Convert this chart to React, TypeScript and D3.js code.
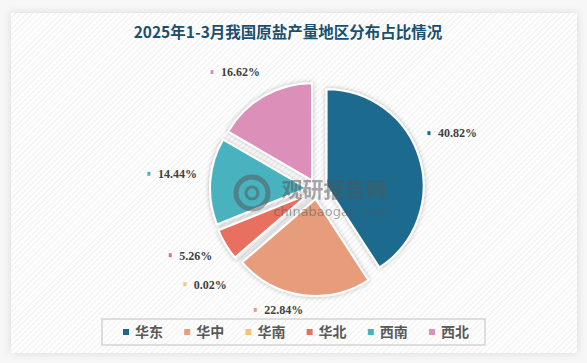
import React, { useMemo } from 'react';
import * as d3 from 'd3';

const title = '2025年1-3月我国原盐产量地区分布占比情况';
const regions = ['华东', '华中', '华南', '华北', '西南', '西北'];
const shares = [40.82, 22.84, 0.02, 5.26, 14.44, 16.62];
const colors = ['#1d6a8e', '#e79c7b', '#fbc277', '#e8705f', '#48b2bf', '#dc8fb8'];

// label placement nudges (degrees off slice middle, radius factor)
const labelShift = [-10, 19, 5, 7, 1, -12];
const labelRadius = [1.29, 1.4, 1.68, 1.66, 1.74, 1.62];

const W = 587;
const H = 363;

export default function App() {
  const cx = 317;
  const cy = 189;
  const r = 97;
  const explode = 10;

  const arcs = useMemo(
    () =>
      d3
        .pie<number>()
        .sort(null)
        .value((d) => d)(shares),
    []
  );
  const arc = d3.arc<d3.PieArcDatum<number>>().innerRadius(0).outerRadius(r);

  const legendX = d3
    .scaleBand<string>()
    .domain(regions)
    .range([123, 123 + 61.2 * regions.length]);

  return (
    <div style={{ position: 'absolute', left: 0, top: 0 }}>
      <svg width={W} height={H} style={{ display: 'block' }}>
        <defs>
          <pattern id="stripes" width="4" height="4" patternUnits="userSpaceOnUse" patternTransform="rotate(45)">
            <rect width="4" height="4" fill="#ffffff" />
            <line x1="0" y1="0" x2="0" y2="4" stroke="#ebebeb" strokeWidth="1.6" />
          </pattern>
          <filter id="boxShadow" x="-5%" y="-5%" width="110%" height="110%">
            <feDropShadow dx="0" dy="0" stdDeviation="4" floodColor="#000" floodOpacity="0.12" />
          </filter>
          <filter id="sliceShadow" x="-20%" y="-20%" width="140%" height="140%">
            <feDropShadow dx="0" dy="0" stdDeviation="2.5" floodColor="#000" floodOpacity="0.28" />
          </filter>
        </defs>
        <rect width={W} height={H} fill="#f7f7f7" />
        <rect x={11} y={13} width={566} height={340} fill="url(#stripes)" filter="url(#boxShadow)" />

        <text
          x={288}
          y={38}
          textAnchor="middle"
          fontFamily="'Noto Sans CJK SC', sans-serif"
          fontWeight="bold"
          fontSize={15.5}
          fill="#1b4f6e"
        >
          {title}
        </text>

        <g>
          {arcs.map((a, i) => {
            const mid = (a.startAngle + a.endAngle) / 2;
            const ox = Math.sin(mid) * explode;
            const oy = -Math.cos(mid) * explode;
            return (
              <path
                key={regions[i]}
                d={arc(a) || ''}
                transform={`translate(${cx + ox},${cy + oy})`}
                fill={colors[i]}
                stroke="#ffffff"
                strokeWidth={2}
                strokeLinejoin="round"
                filter="url(#sliceShadow)"
              />
            );
          })}
        </g>

        {/* watermark */}
        <g opacity={0.5} fill="#555555">
          <circle cx={252} cy={193} r={16} fill="none" stroke="#555555" strokeWidth={5} />
          <circle cx={252} cy={193} r={6} fill="none" stroke="#555555" strokeWidth={3} />
          <text x={334} y={197} textAnchor="middle" fontFamily="'Noto Sans CJK SC', sans-serif" fontWeight="bold" fontSize={21}>
            观研报告网
          </text>
          <text x={331} y={216} textAnchor="middle" fontFamily="'DejaVu Sans', sans-serif" fontSize={13}>
            chinabaogao.com
          </text>
        </g>

        {arcs.map((a, i) => {
          const mid = (a.startAngle + a.endAngle) / 2 + (labelShift[i] * Math.PI) / 180;
          const lr = r * labelRadius[i];
          const x = cx + Math.sin(mid) * lr;
          const y = cy - Math.cos(mid) * lr;
          return (
            <g key={'l' + regions[i]}>
              <rect x={x - 1.5} y={y - 2} width={3} height={4} fill={colors[i]} />
              <text
                x={x + 9}
                y={y}
                dy="0.36em"
                fontFamily="'Liberation Serif', serif"
                fontWeight="bold"
                fontSize={12}
                fill="#404040"
              >
                {shares[i].toFixed(2) + '%'}
              </text>
            </g>
          );
        })}

        <rect x={102} y={319} width={383} height={26} fill="none" stroke="#d4d4d4" strokeWidth={1.5} />
        {regions.map((name, i) => {
          const x = legendX(name) || 0;
          return (
            <g key={'lg' + name}>
              <rect x={x} y={329} width={6} height={6} fill={colors[i]} />
              <text
                x={x + 12}
                y={332}
                dy="0.36em"
                fontFamily="'Noto Sans CJK SC', sans-serif"
                fontWeight="bold"
                fontSize={14}
                fill="#595959"
              >
                {name}
              </text>
            </g>
          );
        })}
      </svg>
    </div>
  );
}
